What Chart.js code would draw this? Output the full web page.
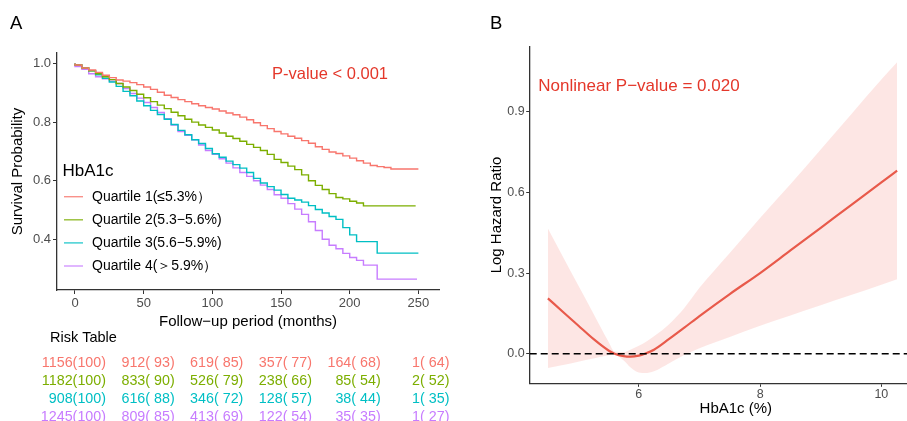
<!DOCTYPE html>
<html>
<head>
<meta charset="utf-8">
<script src="https://cdn.jsdelivr.net/npm/chart.js@4.4.1/dist/chart.umd.min.js"></script>
<style>
  html, body { margin: 0; padding: 0; background: #fff; overflow: hidden; }
  #wrap { position: relative; width: 907px; height: 421px; overflow: hidden; }
  #kmChart { position: absolute; left: 0; top: 0; }
  #rcsChart { position: absolute; left: 450px; top: 0; }
</style>
</head>
<body>
<div id="wrap">
  <canvas id="kmChart" width="450" height="421"></canvas>
  <canvas id="rcsChart" width="492" height="421"></canvas>
</div>
<script>
// ---- panel A data (Kaplan-Meier) ----
const months = [0, 5, 10, 15, 20, 25, 30, 35, 40, 45, 50, 55, 60, 65, 70, 75, 80, 85, 90, 95,
  100, 105, 110, 115, 120, 125, 130, 135, 140, 145, 150, 155, 160, 165, 170, 175, 180, 185, 190, 195,
  200, 205, 210, 215, 220, 225, 230, 235, 240, 245]
const q1Surv = [1, 0.995, 0.985, 0.978, 0.97, 0.96, 0.952, 0.944, 0.94, 0.935, 0.928, 0.92, 0.912, 0.902, 0.892, 0.884, 0.877, 0.87, 0.863, 0.856,
  0.85, 0.845, 0.838, 0.831, 0.825, 0.817, 0.808, 0.798, 0.788, 0.778, 0.768, 0.76, 0.752, 0.745, 0.737, 0.728, 0.716, 0.707, 0.698, 0.693,
  0.685, 0.677, 0.668, 0.66, 0.652, 0.648, 0.645, 0.64, 0.64, 0.64]
const q2Surv = [1, 0.995, 0.985, 0.975, 0.965, 0.955, 0.945, 0.932, 0.92, 0.908, 0.895, 0.883, 0.87, 0.858, 0.846, 0.834, 0.822, 0.81, 0.8, 0.79,
  0.782, 0.773, 0.763, 0.752, 0.744, 0.735, 0.724, 0.714, 0.703, 0.69, 0.673, 0.662, 0.65, 0.638, 0.62, 0.6, 0.584, 0.57, 0.556, 0.543,
  0.538, 0.53, 0.524, 0.514, 0.514, 0.514, 0.514, 0.514, 0.514, 0.514]
const q3Surv = [1, 0.995, 0.985, 0.975, 0.962, 0.95, 0.937, 0.922, 0.905, 0.89, 0.872, 0.856, 0.84, 0.826, 0.81, 0.792, 0.772, 0.757, 0.74, 0.727,
  0.71, 0.692, 0.68, 0.667, 0.655, 0.643, 0.628, 0.608, 0.592, 0.58, 0.568, 0.553, 0.54, 0.534, 0.527, 0.515, 0.502, 0.49, 0.478, 0.468,
  0.44, 0.415, 0.392, 0.392, 0.392, 0.353, 0.353, 0.353, 0.353, 0.353]
const q4Surv = [1, 0.99, 0.98, 0.965, 0.955, 0.948, 0.94, 0.932, 0.915, 0.898, 0.882, 0.867, 0.85, 0.833, 0.812, 0.79, 0.768, 0.755, 0.74, 0.722,
  0.703, 0.69, 0.675, 0.66, 0.644, 0.628, 0.615, 0.6, 0.585, 0.57, 0.552, 0.54, 0.522, 0.503, 0.485, 0.46, 0.43, 0.4, 0.38, 0.368,
  0.352, 0.338, 0.328, 0.312, 0.312, 0.264, 0.264, 0.264, 0.264, 0.264]
const endMonths = [250, 248, 250, 249]
const groupLabels = ['Quartile 1(≤5.3%）', 'Quartile 2(5.3−5.6%)', 'Quartile 3(5.6−5.9%)', 'Quartile 4(＞5.9%）']
const kmColors = ['#F8766D', '#7CAE00', '#00BFC4', '#C77CFF']
const monthTicks = [0, 50, 100, 150, 200, 250]
const survTicks = [0.4, 0.6, 0.8, 1.0]

// risk table
const riskTimes = [0, 50, 100, 150, 200, 250]
const riskQ1 = ['1156(100)', '912( 93)', '619( 85)', '357( 77)', '164( 68)', '1( 64)']
const riskQ2 = ['1182(100)', '833( 90)', '526( 79)', '238( 66)', '85( 54)', '2( 52)']
const riskQ3 = ['908(100)', '616( 88)', '346( 72)', '128( 57)', '38( 44)', '1( 35)']
const riskQ4 = ['1245(100)', '809( 85)', '413( 69)', '122( 54)', '35( 35)', '1( 27)']

// ---- panel B data (restricted cubic spline) ----
const hba1c = [4.5, 4.75, 5.0, 5.25, 5.5, 5.6, 5.75, 5.86, 6.0, 6.1, 6.25, 6.5, 6.75, 7.0, 7.5, 8.0, 8.5, 9.0, 9.5, 10.0, 10.26]
const logHR = [0.206, 0.155, 0.105, 0.055, 0.012, 0, -0.009, -0.011, -0.007, 0, 0.015, 0.055, 0.097, 0.14, 0.222, 0.30, 0.384, 0.468, 0.553, 0.637, 0.681]
const hrUpper = [0.466, 0.36, 0.255, 0.15, 0.045, 0.008, 0.006, 0.015, 0.03, 0.042, 0.065, 0.11, 0.17, 0.245, 0.375, 0.505, 0.63, 0.76, 0.89, 1.02, 1.084]
const hrLower = [-0.053, -0.042, -0.03, -0.018, -0.006, -0.003, -0.025, -0.05, -0.07, -0.072, -0.065, -0.035, -0.005, 0.02, 0.062, 0.104, 0.142, 0.18, 0.218, 0.257, 0.277]
const hbaTicks = [6, 8, 10]
const lhrTicks = [0.0, 0.3, 0.6, 0.9]

const FONT = "'Liberation Sans', Arial, sans-serif"
Chart.defaults.font.family = FONT
const textRed = '#E4372A'
const axisColor = '#333333'
const tickColor = '#4d4d4d'

function drawText(ctx, str, x, y, size, color, align, baseline) {
  ctx.save()
  ctx.font = size + 'px ' + FONT
  ctx.fillStyle = color
  ctx.textAlign = align || 'left'
  ctx.textBaseline = baseline || 'alphabetic'
  ctx.fillText(str, x, y)
  ctx.restore()
}

// build KM datasets
const survList = [q1Surv, q2Surv, q3Surv, q4Surv]
const kmDatasets = survList.map((surv, g) => {
  const pts = months.map((m, i) => ({ x: m, y: surv[i] }))
  pts.push({ x: endMonths[g], y: surv[surv.length - 1] })
  return {
    label: groupLabels[g],
    data: pts,
    borderColor: kmColors[g],
    borderWidth: 1.4,
    pointRadius: 0,
    stepped: 'after',
    fill: false
  }
})

const kmOverlay = {
  id: 'kmOverlay',
  afterDraw(chart) {
    const ctx = chart.ctx
    drawText(ctx, 'A', 10, 28.5, 18.5, '#000')
    drawText(ctx, 'P-value < 0.001', 272, 78.5, 16.5, textRed)

    // legend inside the plot
    drawText(ctx, 'HbA1c', 62.5, 176, 17, '#000')
    groupLabels.forEach((lab, g) => {
      const y = 196.7 + g * 23.1
      ctx.save()
      ctx.strokeStyle = kmColors[g]
      ctx.globalAlpha = 0.8
      ctx.lineWidth = 1.4
      ctx.beginPath()
      ctx.moveTo(64, y)
      ctx.lineTo(83, y)
      ctx.stroke()
      ctx.restore()
      drawText(ctx, lab, 92, y, 14, '#000', 'left', 'middle')
    })

    // risk table
    drawText(ctx, 'Risk Table', 50, 338, 14.5, '#000', 'left', 'middle')
    const xs = chart.scales.x
    const rows = [riskQ1, riskQ2, riskQ3, riskQ4]
    rows.forEach((row, r) => {
      row.forEach((txt, c) => {
        drawText(ctx, txt, xs.getPixelForValue(riskTimes[c]) + 31, 363.5 + r * 17.8, 14.3, kmColors[r], 'right', 'middle')
      })
    })
  }
}

new Chart(document.getElementById('kmChart'), {
  type: 'line',
  data: { datasets: kmDatasets },
  options: {
    responsive: false,
    animation: false,
    layout: { padding: { left: 5, top: 53, right: 11, bottom: 86.3 } },
    plugins: { legend: { display: false }, tooltip: { enabled: false } },
    scales: {
      x: {
        type: 'linear',
        min: -13.1,
        max: 265,
        afterBuildTicks: (s) => { s.ticks = monthTicks.map(v => ({ value: v })) },
        afterFit: (s) => { s.height = 44.7 },
        ticks: { color: tickColor, font: { size: 13 }, padding: 2, maxRotation: 0, callback: v => String(v) },
        grid: { drawOnChartArea: false, drawTicks: true, tickLength: 4, color: axisColor },
        border: { display: true, color: axisColor, width: 1.3 },
        title: { display: true, text: 'Follow−up period (months)', color: '#000', font: { size: 15 }, padding: { top: 4, bottom: 4 } }
      },
      y: {
        type: 'linear',
        min: 0.227,
        max: 1.036,
        afterBuildTicks: (s) => { s.ticks = survTicks.map(v => ({ value: v })) },
        afterFit: (s) => { s.width = 52 },
        ticks: { color: tickColor, font: { size: 13 }, padding: 2, callback: v => v.toFixed(1) },
        grid: { drawOnChartArea: false, drawTicks: true, tickLength: 4, color: axisColor },
        border: { display: true, color: axisColor, width: 1.3 },
        title: { display: true, text: 'Survival Probability', color: '#000', font: { size: 15 }, padding: { top: 4, bottom: 4 } }
      }
    }
  },
  plugins: [kmOverlay]
})

// ---- panel B ----
const rcsOverlay = {
  id: 'rcsOverlay',
  afterDraw(chart) {
    const ctx = chart.ctx
    drawText(ctx, 'B', 40, 28.5, 18.5, '#000')
    drawText(ctx, 'Nonlinear P−value = 0.020', 88.3, 90.7, 17, textRed)
  }
}

const xMinB = 4.2
const xMaxB = 11.0

new Chart(document.getElementById('rcsChart'), {
  type: 'line',
  data: {
    datasets: [
      {
        label: 'reference',
        data: [{ x: xMinB, y: 0 }, { x: xMaxB, y: 0 }],
        borderColor: '#000',
        borderWidth: 1.6,
        borderDash: [7, 4],
        pointRadius: 0,
        fill: false,
        order: 0
      },
      {
        label: 'log HR',
        data: hba1c.map((v, i) => ({ x: v, y: logHR[i] })),
        borderColor: '#E85A4B',
        borderWidth: 2.2,
        pointRadius: 0,
        cubicInterpolationMode: 'monotone',
        fill: false,
        order: 1
      },
      {
        label: 'upper',
        data: hba1c.map((v, i) => ({ x: v, y: hrUpper[i] })),
        borderWidth: 0,
        borderColor: 'rgba(0,0,0,0)',
        backgroundColor: 'rgba(240,100,90,0.16)',
        pointRadius: 0,
        cubicInterpolationMode: 'monotone',
        fill: '+1',
        order: 2
      },
      {
        label: 'lower',
        data: hba1c.map((v, i) => ({ x: v, y: hrLower[i] })),
        borderWidth: 0,
        borderColor: 'rgba(0,0,0,0)',
        pointRadius: 0,
        cubicInterpolationMode: 'monotone',
        fill: false,
        order: 3
      }
    ]
  },
  options: {
    responsive: false,
    animation: false,
    layout: { padding: { left: 34, top: 46.7, right: 0, bottom: 0 } },
    plugins: { legend: { display: false }, tooltip: { enabled: false } },
    scales: {
      x: {
        type: 'linear',
        min: xMinB,
        max: xMaxB,
        afterBuildTicks: (s) => { s.ticks = hbaTicks.map(v => ({ value: v })) },
        afterFit: (s) => { s.height = 37.7 },
        ticks: { color: tickColor, font: { size: 12.5 }, padding: 0, maxRotation: 0, callback: v => String(v) },
        grid: { drawOnChartArea: false, drawTicks: true, tickLength: 3.5, color: axisColor },
        border: { display: true, color: axisColor, width: 1.3 },
        title: { display: true, text: 'HbA1c (%)', color: '#000', font: { size: 15 }, padding: { top: 4, bottom: 3 } }
      },
      y: {
        type: 'linear',
        min: -0.11,
        max: 1.142,
        afterBuildTicks: (s) => { s.ticks = lhrTicks.map(v => ({ value: v })) },
        afterFit: (s) => { s.width = 45.7 },
        ticks: { color: tickColor, font: { size: 12.5 }, padding: 1.5, callback: v => v.toFixed(1) },
        grid: { drawOnChartArea: false, drawTicks: true, tickLength: 3.5, color: axisColor },
        border: { display: true, color: axisColor, width: 1.3 },
        title: { display: true, text: 'Log Hazard Ratio', color: '#000', font: { size: 15 }, padding: { top: 4, bottom: 4 } }
      }
    }
  },
  plugins: [rcsOverlay]
})
</script>
</body>
</html>
